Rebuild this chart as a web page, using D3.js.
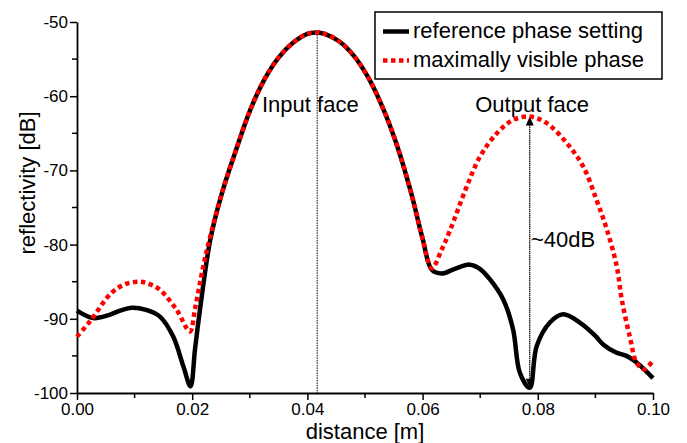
<!DOCTYPE html>
<html>
<head>
<meta charset="utf-8">
<script src="https://cdn.jsdelivr.net/npm/d3@7"></script>
<style>
  body { margin: 0; background: #fff; }
  text { font-family: "Liberation Sans", Arial, Helvetica, sans-serif; fill: #000; }
</style>
</head>
<body>
<div id="chart"></div>
<script>
// Plot area in page pixels
const margin = { top: 22, right: 34, bottom: 50, left: 77 },
      W = 687, H = 443,
      width = W - margin.left - margin.right,
      height = H - margin.top - margin.bottom;

// reference phase setting (black)
const refX = [0.000, 0.0028, 0.0055, 0.0075, 0.0095, 0.012, 0.0144, 0.0167, 0.0185, 0.0197,
              0.0205, 0.0214, 0.0231, 0.025, 0.0275, 0.030, 0.0325, 0.035, 0.0375, 0.040,
              0.0417, 0.043, 0.0455, 0.048, 0.0505, 0.053, 0.0555, 0.058, 0.060, 0.0616,
              0.0633, 0.0655, 0.0682, 0.070, 0.0717, 0.074, 0.0757, 0.0769, 0.0786, 0.0798,
              0.0821, 0.0844, 0.0873, 0.090, 0.0914, 0.0935, 0.0954, 0.097, 0.100];
const refY = [-88.9, -89.9, -89.5, -88.9, -88.5, -88.8, -89.7, -92.4, -96.5, -99.1,
              -94.0, -88.5, -79.5, -73.5, -67.5, -62.0, -57.8, -54.8, -52.8, -51.6,
              -51.4, -51.6, -52.6, -54.5, -57.4, -61.4, -66.5, -73.0, -79.2, -83.4,
              -83.9, -83.3, -82.7, -83.3, -84.7, -87.4, -91.4, -97.3, -99.3, -93.7,
              -90.5, -89.4, -90.5, -92.3, -93.5, -94.5, -95.0, -95.8, -98.0];

// maximally visible phase (red dotted)
const visX = [0.000, 0.0023, 0.006, 0.0085, 0.0109, 0.0125, 0.0144, 0.0173, 0.0196, 0.0205,
              0.0219, 0.0231, 0.025, 0.0275, 0.030, 0.0325, 0.035, 0.0375, 0.040, 0.0417,
              0.043, 0.0455, 0.048, 0.0505, 0.053, 0.0555, 0.058, 0.060, 0.0616, 0.0633,
              0.0648, 0.0675, 0.070, 0.0729, 0.0757, 0.0786, 0.0815, 0.085, 0.0879, 0.0902,
              0.092, 0.0937, 0.0946, 0.096, 0.0972, 0.0985, 0.100];
const visY = [-92.4, -90.3, -86.5, -85.3, -85.0, -85.3, -86.1, -88.8, -91.7, -88.6,
              -83.0, -79.0, -73.5, -67.5, -62.0, -57.8, -54.8, -52.8, -51.6, -51.4,
              -51.6, -52.6, -54.5, -57.4, -61.4, -66.5, -73.0, -79.2, -83.2, -80.7,
              -78.0, -72.5, -68.1, -65.0, -63.2, -62.75, -63.6, -66.3, -69.5, -74.0,
              -78.0, -82.9, -87.5, -92.5, -96.0, -96.8, -95.6];

const xTicks = [0.00, 0.02, 0.04, 0.06, 0.08, 0.10];
const xMinor = [0.01, 0.03, 0.05, 0.07, 0.09];
const yTicks = [-50, -60, -70, -80, -90, -100];
const yMinor = [-55, -65, -75, -85, -95];

const seriesNames = ["reference phase setting", "maximally visible phase"];

// annotations (data units)
const inputFace = { x: 0.0417, top: -51.4, label: "Input face" };
const outputFace = { x: 0.0786, top: -62.75, bottom: -99.3, label: "Output face", gap: "~40dB" };

const colors = { ref: "#000", vis: "#ff0000" };
const font = 22;

const svg = d3.select("#chart").append("svg")
    .attr("width", W)
    .attr("height", H);

const g = svg.append("g")
    .attr("transform", `translate(${margin.left},${margin.top})`);

const x = d3.scaleLinear().domain([0, 0.1]).range([0, width]);
const y = d3.scaleLinear().domain([-100, -50]).range([height, 0]);

// Axes
const xAxis = g.append("g")
    .attr("transform", `translate(0,${height})`)
    .call(d3.axisBottom(x).tickValues(xTicks).tickFormat(d => d.toFixed(2)).tickSize(7).tickSizeOuter(0).tickPadding(3));
xAxis.selectAll("g.minor").data(xMinor).enter().append("line")
    .attr("x1", d => x(d)).attr("x2", d => x(d))
    .attr("y1", 0).attr("y2", 5)
    .attr("stroke", "#000").attr("stroke-width", 1.5);

const yAxis = g.append("g")
    .call(d3.axisLeft(y).tickValues(yTicks).tickFormat(d => String(d)).tickSize(7).tickSizeOuter(0).tickPadding(2));
yAxis.selectAll("g.minor").data(yMinor).enter().append("line")
    .attr("x1", 0).attr("x2", -5)
    .attr("y1", d => y(d)).attr("y2", d => y(d))
    .attr("stroke", "#000").attr("stroke-width", 1.5);

[xAxis, yAxis].forEach(a => {
  a.select(".domain").attr("stroke-width", 1.8);
  a.selectAll(".tick line").attr("stroke-width", 1.5);
  a.selectAll(".tick text")
      .style("font-family", '"Liberation Sans", Arial, sans-serif')
      .style("font-size", "17px")
      .attr("fill", "#000");
});

// Axis titles
svg.append("text")
    .attr("text-anchor", "middle")
    .attr("x", margin.left + width / 2)
    .attr("y", 439)
    .style("font-size", font + "px")
    .text("distance [m]");

svg.append("text")
    .attr("text-anchor", "middle")
    .attr("transform", `translate(35,${margin.top + 161}) rotate(-90)`)
    .style("font-size", font + "px")
    .text("reflectivity [dB]");

// Guide lines
g.append("line")
    .attr("x1", x(inputFace.x)).attr("x2", x(inputFace.x))
    .attr("y1", y(inputFace.top)).attr("y2", height)
    .attr("stroke", "#000").attr("stroke-width", 1)
    .attr("stroke-dasharray", "1.5,1");

g.append("line")
    .attr("x1", x(outputFace.x)).attr("x2", x(outputFace.x))
    .attr("y1", y(outputFace.top) + 6).attr("y2", y(outputFace.bottom) - 6)
    .attr("stroke", "#000").attr("stroke-width", 1.2)
    .attr("stroke-dasharray", "1.5,0.6");

const ax = x(outputFace.x);
g.append("path")
    .attr("d", `M${ax},${y(outputFace.top)} L${ax - 4},${y(outputFace.top) + 9} L${ax + 4},${y(outputFace.top) + 9}Z`)
    .attr("fill", "#000");
g.append("path")
    .attr("d", `M${ax},${y(outputFace.bottom)} L${ax - 4},${y(outputFace.bottom) - 9} L${ax + 4},${y(outputFace.bottom) - 9}Z`)
    .attr("fill", "#000");

// Curves
const line = d3.line()
    .x(d => x(d[0]))
    .y(d => y(d[1]))
    .curve(d3.curveCatmullRom.alpha(0.5));

g.append("path")
    .datum(d3.zip(refX, refY))
    .attr("fill", "none")
    .attr("stroke", colors.ref)
    .attr("stroke-width", 4.5)
    .attr("stroke-linejoin", "round")
    .attr("d", line);

g.append("path")
    .datum(d3.zip(visX, visY))
    .attr("fill", "none")
    .attr("stroke", colors.vis)
    .attr("stroke-width", 4.5)
    .attr("stroke-dasharray", "4.5,3.5")
    .attr("d", line);

// Annotation text
svg.append("text")
    .attr("x", 262).attr("y", 112)
    .style("font-size", font + "px")
    .text(inputFace.label);

svg.append("text")
    .attr("text-anchor", "end")
    .attr("x", 589).attr("y", 112)
    .style("font-size", font + "px")
    .text(outputFace.label);

svg.append("text")
    .attr("x", 531).attr("y", 247)
    .style("font-size", font + "px")
    .text(outputFace.gap);

// Legend
const legend = svg.append("g");
legend.append("rect")
    .attr("x", 375).attr("y", 12)
    .attr("width", 287).attr("height", 67)
    .attr("fill", "#fff")
    .attr("stroke", "#000").attr("stroke-width", 1.5);

const legRows = [
  { name: seriesNames[0], color: colors.ref, dash: null, y: 31.5 },
  { name: seriesNames[1], color: colors.vis, dash: "4.5,3.5", y: 60.5 }
];
legRows.forEach(r => {
  legend.append("line")
      .attr("x1", 383).attr("x2", 409)
      .attr("y1", r.y).attr("y2", r.y)
      .attr("stroke", r.color).attr("stroke-width", 4.5)
      .attr("stroke-dasharray", r.dash);
  legend.append("text")
      .attr("x", 413).attr("y", r.y + 6.5)
      .style("font-size", font + "px")
      .text(r.name);
});
</script>
</body>
</html>
